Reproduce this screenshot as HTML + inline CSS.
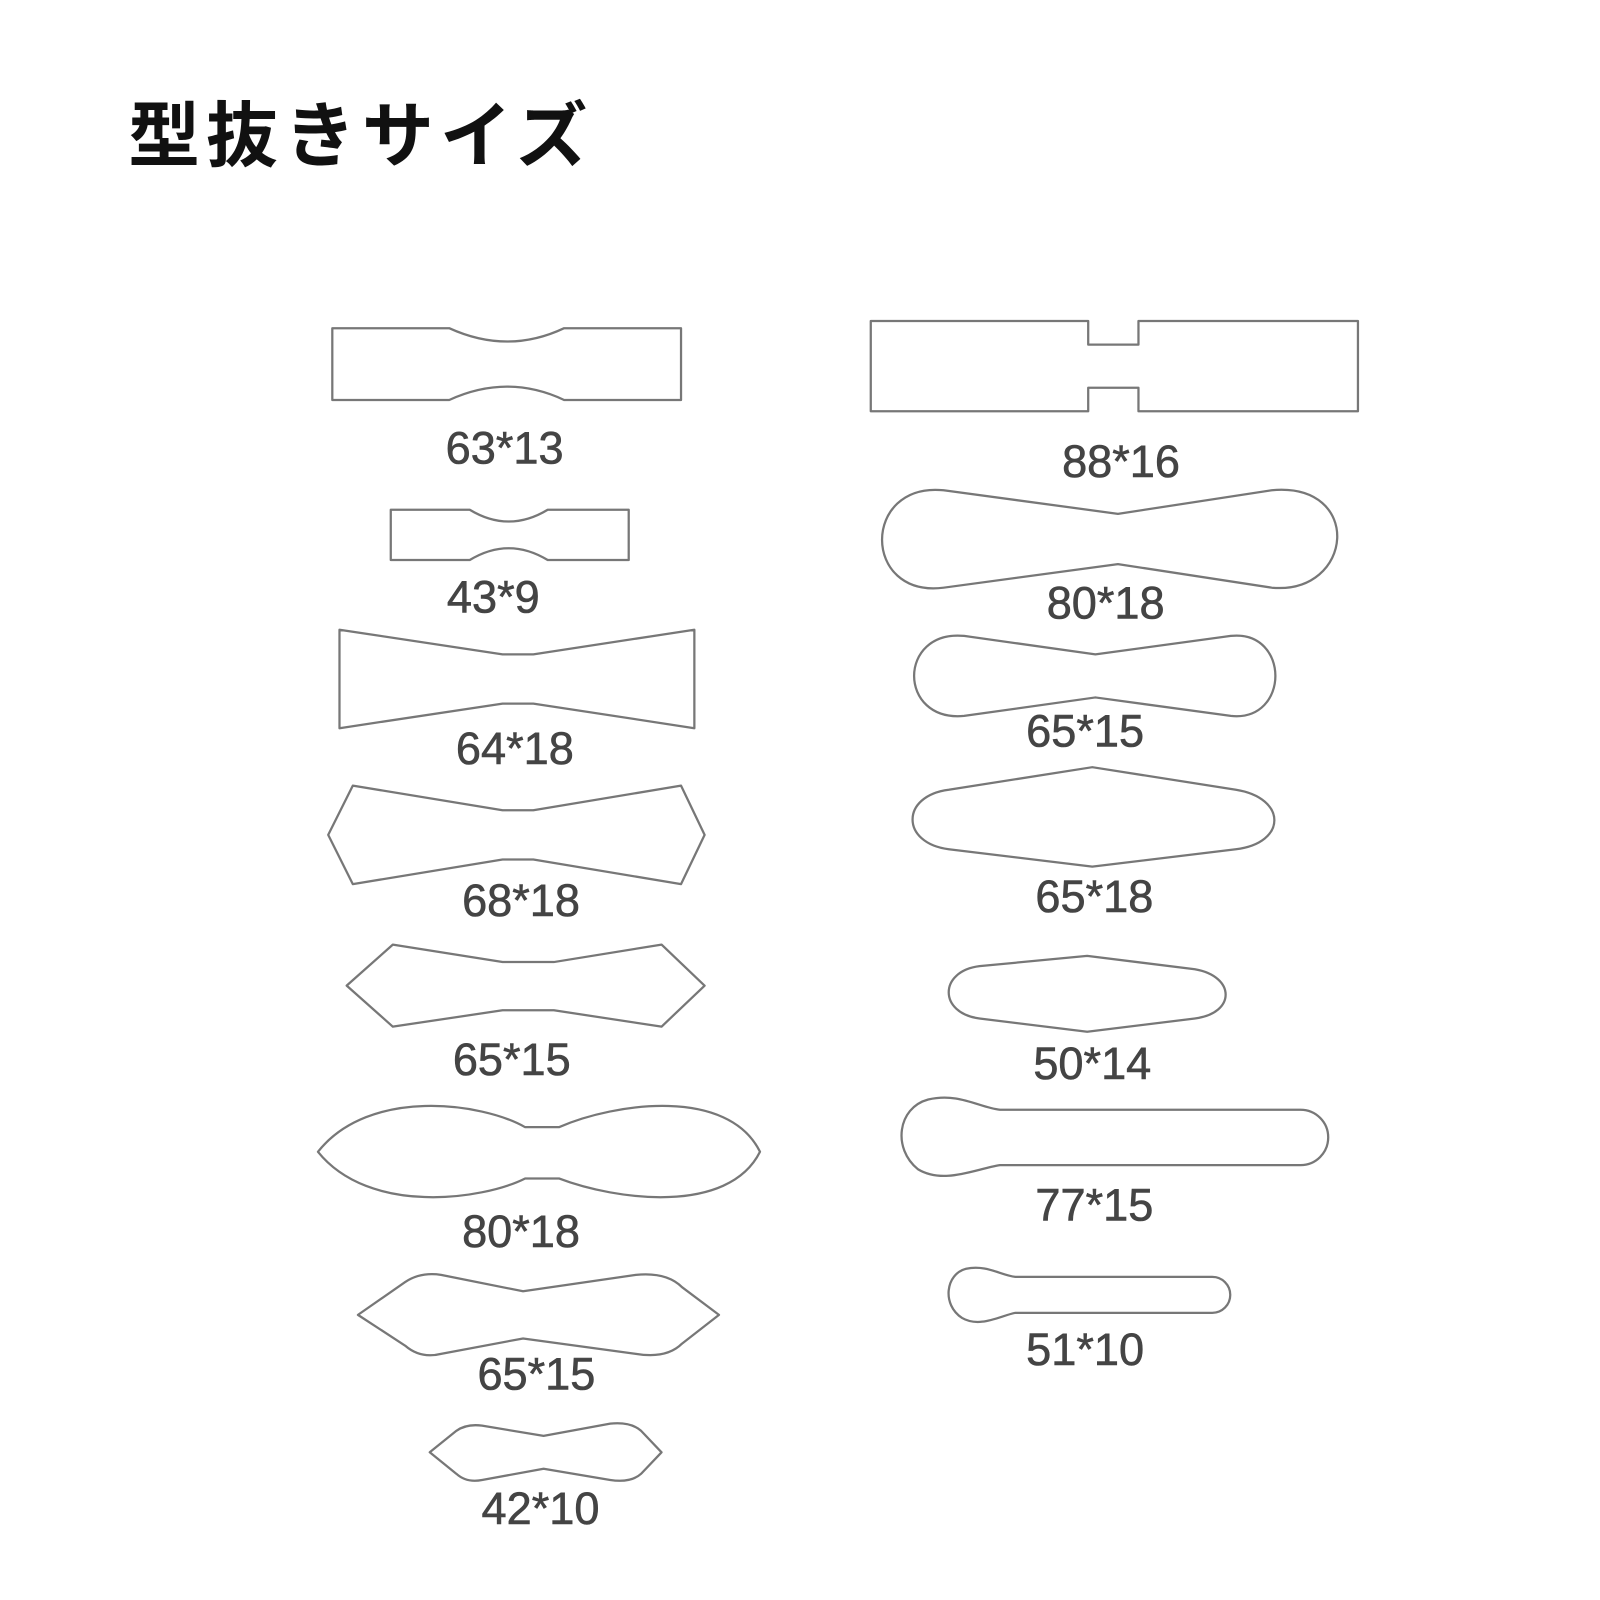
<!DOCTYPE html>
<html><head><meta charset="utf-8"><style>
html,body{margin:0;padding:0;background:#fff;}
svg{display:block;}
</style></head><body>
<svg width="1600" height="1600" viewBox="0 0 1560 1560" xmlns="http://www.w3.org/2000/svg">
<rect width="1560" height="1560" fill="#fff"/>
<text x="125" y="157" font-family="'Liberation Sans','Noto Sans CJK JP',sans-serif" font-weight="bold" font-size="70" fill="#111" letter-spacing="6">型抜きサイズ</text>
<g fill="none" stroke="#777" stroke-width="2.2" stroke-linejoin="round">
<path d="M324,320 L438,320 Q495,346 550,320 L664,320 L664,390 L550,390 Q495,364 438,390 L324,390 Z"/>
<path d="M381,497 L458,497 Q496,520 534,497 L613,497 L613,546 L534,546 Q496,523 458,546 L381,546 Z"/>
<path d="M331,614 L490,638 L520,638 L677,614 L677,710 L520,686 L490,686 L331,710 Z"/>
<path d="M320,814 L344,766 L490,790 L520,790 L664,766 L687,814 L664,862 L520,838 L490,838 L344,862 Z"/>
<path d="M338,961 L383,921 L490,938 L540,938 L645,921 L687,961 L645,1001 L540,985 L490,985 L383,1001 Z"/>
<path d="M310,1123 C360,1060 470,1075 512,1099 L545,1099 C600,1075 710,1060 741,1123 C710,1185 600,1170 545,1149 L512,1149 C470,1170 360,1185 310,1123 Z"/>
<path d="M349,1282 L395,1250 Q410,1240 430,1243 L510,1259 L620,1243 Q650,1240 665,1255 L701,1282 L665,1310 Q650,1325 620,1320 L510,1305 L430,1320 Q410,1325 395,1312 Z"/>
<path d="M419,1416 L445,1395 Q455,1388 470,1390 L530,1400 L595,1388 Q615,1386 625,1395 L645,1416 L625,1437 Q615,1446 595,1443 L530,1432 L470,1443 Q455,1446 445,1437 Z"/>
<path d="M849,313 L1061,313 L1061,336 L1110,336 L1110,313 L1324,313 L1324,401 L1110,401 L1110,378 L1061,378 L1061,401 L849,401 Z"/>
<path d="M920,478 L1090,501 L1240,478 C1330,470 1320,580 1240,573 L1090,550 L920,573 C840,583 840,470 920,478 Z"/>
<path d="M940,620 L1068,638 L1200,620 C1258,614 1258,704 1200,698 L1068,680 L940,698 C875,704 875,614 940,620 Z"/>
<path d="M925,770 L1065,748 L1205,770 C1255,778 1255,822 1205,828 L1065,845 L925,828 C878,822 878,776 925,770 Z"/>
<path d="M955,942 L1060,932 L1165,945 C1205,952 1205,988 1165,993 L1060,1006 L955,993 C915,988 915,947 955,942 Z"/>
<path d="M975,1082 L1268,1082 A27,27 0 0 1 1268,1136 L975,1136 C950,1140 920,1155 895,1140 C870,1120 875,1080 905,1072 C935,1065 955,1080 975,1082 Z"/>
<path d="M990,1245 L1182,1245 A17.5,17.5 0 0 1 1182,1280 L990,1280 C975,1283 955,1295 938,1285 C918,1272 922,1242 942,1237 C962,1233 975,1243 990,1245 Z"/>
</g>
<g font-family="'Liberation Sans',sans-serif" font-size="44" fill="#444" stroke="#444" stroke-width="0.6" text-anchor="middle">
<text x="492" y="452">63*13</text>
<text x="481" y="597">43*9</text>
<text x="502" y="745">64*18</text>
<text x="508" y="893">68*18</text>
<text x="499" y="1048">65*15</text>
<text x="508" y="1216">80*18</text>
<text x="523" y="1355">65*15</text>
<text x="527" y="1486">42*10</text>
<text x="1093" y="465">88*16</text>
<text x="1078" y="603">80*18</text>
<text x="1058" y="728">65*15</text>
<text x="1067" y="889">65*18</text>
<text x="1065" y="1052">50*14</text>
<text x="1067" y="1190">77*15</text>
<text x="1058" y="1331">51*10</text>
</g>
</svg>
</body></html>
